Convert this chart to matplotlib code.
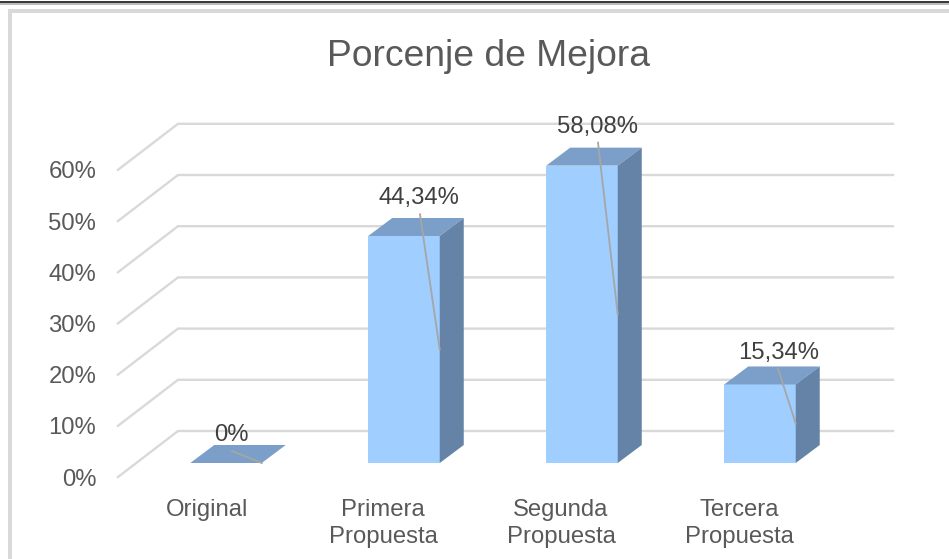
import matplotlib
matplotlib.use("Agg")
import matplotlib.pyplot as plt
from matplotlib.patches import Polygon, Rectangle

categories = ["Original", "Primera\nPropuesta", "Segunda\nPropuesta", "Tercera\nPropuesta"]
values = [0, 44.34, 58.08, 15.34]
value_labels = ["0%", "44,34%", "58,08%", "15,34%"]
y_ticks = [0, 10, 20, 30, 40, 50, 60]
y_tick_labels = ["0%", "10%", "20%", "30%", "40%", "50%", "60%"]

W, H = 949, 559
PX_X = 178.0          # pixels per category
PX_Y = 5.12           # pixels per percent
dx_wall, dy_wall = 60 / PX_X, 46 / PX_Y
dx_bar, dy_bar = 24 / PX_X, 18 / PX_Y
lift = 14 / PX_Y
bar_w = 71.5 / PX_X
lead_start = [(6, 12), (16, 21.7), (16, 23), (18, 16)]
label_gap = [(-1, 16), (-1, 16), (-1, 16), (1, 15)]
xlabel_shift = [-19, -21, -21, -21]

plt.rcParams["font.family"] = ["Liberation Sans", "DejaVu Sans"]
fig = plt.figure(figsize=(W / 100, H / 100), dpi=100, facecolor="white")
ax = fig.add_axes([118 / W, 1 - 477 / H, (893 - 118) / W, (477 - 124) / H])
ax.set_xlim((118 - 226) / PX_X, (893 - 226) / PX_X)
ax.set_ylim(0, (477 - 124) / PX_Y)
for s in ax.spines.values():
    s.set_visible(False)
ax.patch.set_alpha(0)

# chart frame and page rule
fig.add_artist(Rectangle((0, 1 - 3 / H), 1, 1.6 / H, transform=fig.transFigure, fc="#3a3a3a", ec="none"))
fig.add_artist(Rectangle((0, 1 - 4.5 / H), 1, 1.5 / H, transform=fig.transFigure, fc="#bdbdbd", ec="none"))
fig.add_artist(Rectangle((8 / W, 1 - 13 / H), 1, 4 / H, transform=fig.transFigure, fc="#d9d9d9", ec="none"))
fig.add_artist(Rectangle((8 / W, 0), 4.5 / W, 1 - 9 / H, transform=fig.transFigure, fc="#d9d9d9", ec="none"))

x0, x1 = ax.get_xlim()
for t in y_ticks:
    ax.plot([x0, x0 + dx_wall, x1], [t, t + dy_wall, t + dy_wall],
            color="#d9d9d9", lw=1.7, zorder=1, clip_on=False, solid_joinstyle="miter")

front, top, side = "#9fceff", "#7b9fc8", "#6483a6"
for i, v in enumerate(values):
    l, r = i - bar_w / 2, i + bar_w / 2
    b, t = lift, lift + v
    ax.bar(i, v, width=bar_w, bottom=b, color=front, edgecolor="none", zorder=3)
    ax.add_patch(Polygon([(l, t), (r, t), (r + dx_bar, t + dy_bar), (l + dx_bar, t + dy_bar)],
                         fc=top, ec="none", zorder=3))
    if v > 0:
        ax.add_patch(Polygon([(r, b), (r + dx_bar, b + dy_bar), (r + dx_bar, t + dy_bar), (r, t)],
                             fc=side, ec="none", zorder=3))
    sx = i + lead_start[i][0] / PX_X
    sy = t + lead_start[i][1] / PX_Y
    ax.plot([sx, r], [sy, b + v / 2], color="#a6a6a6", lw=1.3, zorder=4, clip_on=False)
    ax.text(sx + label_gap[i][0] / PX_X, sy + label_gap[i][1] / PX_Y, value_labels[i],
            ha="center", va="center", fontsize=17.2, color="#404040", zorder=5)

ax.set_yticks(y_ticks)
ax.set_yticklabels(y_tick_labels, fontsize=17.2, color="#595959")
ax.set_xticks([i + xlabel_shift[i] / PX_X for i in range(len(categories))])
ax.set_xticklabels(categories, fontsize=17.2, color="#595959", linespacing=1.27)
ax.tick_params(axis="y", length=0, pad=15.7)
ax.tick_params(axis="x", length=0, pad=16)

fig.text(488 / W, 1 - 56 / H, "Porcenje de Mejora", ha="center", va="center",
         fontsize=26.8, color="#595959")

fig.savefig("out.png", dpi=100)
